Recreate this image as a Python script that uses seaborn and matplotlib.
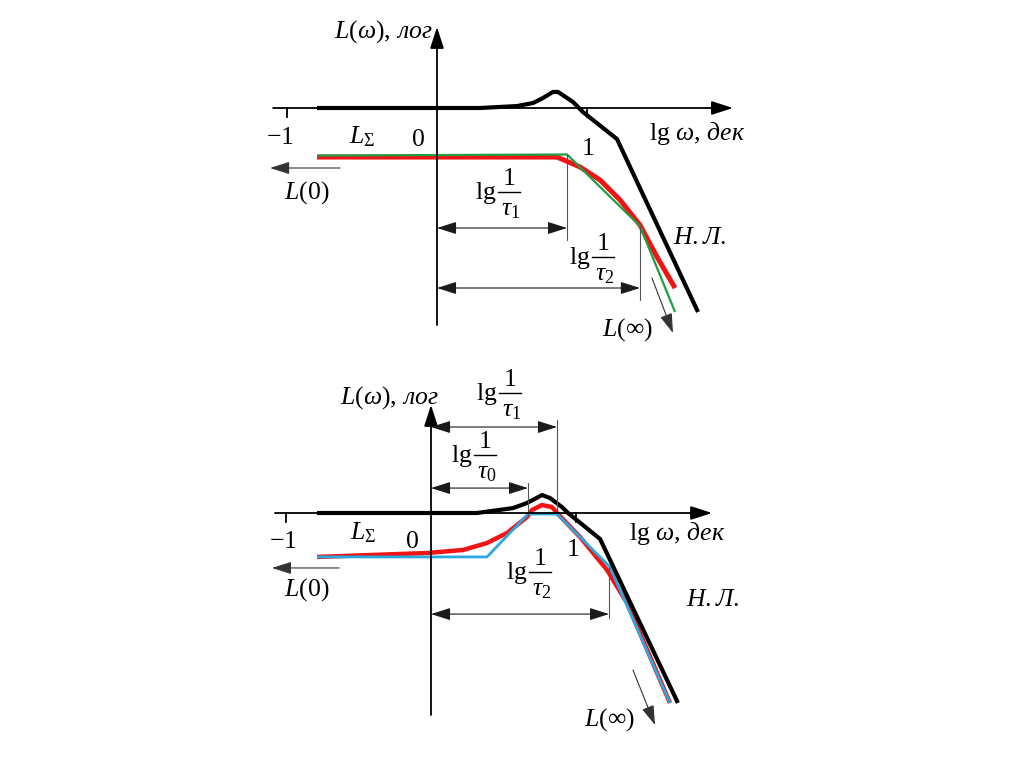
import matplotlib
matplotlib.use("Agg")
import matplotlib.pyplot as plt
import seaborn as sns
import pandas as pd

# Asymptotic LAChH sketches, x = lg(omega) in decades, y = L in the same units

# ---- top panel
top_black_x = [-0.80, 0.287, 0.533, 0.64, 0.707, 0.773, 0.807, 0.907, 0.973, 1.20, 1.74]
top_black_y = [0.0, 0.0, 0.013, 0.033, 0.067, 0.107, 0.107, 0.04, -0.027, -0.207, -1.36]

top_red_x = [-0.80, 0.80, 0.953, 1.087, 1.22, 1.353, 1.467, 1.587]
top_red_y = [-0.327, -0.327, -0.393, -0.48, -0.613, -0.78, -0.993, -1.20]

top_green_x = [-0.80, 0.867, 1.353, 1.587]
top_green_y = [-0.317, -0.31, -0.787, -1.36]

top_tau = {"tau1": 0.867, "tau2": 1.353}

# ---- bottom panel
bot_black_x = [-0.786, 0.317, 0.566, 0.662, 0.766, 0.821, 0.903, 0.945, 1.166, 1.703]
bot_black_y = [0.0, 0.0, 0.034, 0.069, 0.124, 0.103, 0.041, 0.0, -0.179, -1.31]

bot_red_x = [-0.786, -0.028, 0.221, 0.386, 0.524, 0.662, 0.697, 0.766, 0.834, 0.869,
             1.028, 1.214, 1.352, 1.648]
bot_red_y = [-0.303, -0.276, -0.255, -0.207, -0.138, -0.028, 0.021, 0.055, 0.041, 0.0,
             -0.166, -0.393, -0.621, -1.31]

bot_blue_x = [-0.786, 0.386, 0.669, 0.869, 1.234, 1.648]
bot_blue_y = [-0.303, -0.303, -0.007, -0.007, -0.372, -1.31]

bot_tau = {"tau0": 0.669, "tau1": 0.869, "tau2": 1.228}

axis_ticks = [-1, 1]

W, H = 1024, 767

plt.rcParams["font.family"] = ["Liberation Serif", "DejaVu Serif"]
plt.rcParams["mathtext.fontset"] = "custom"
plt.rcParams["mathtext.rm"] = "Liberation Serif"
plt.rcParams["mathtext.it"] = "Liberation Serif:italic"
plt.rcParams["mathtext.bf"] = "Liberation Serif:bold"

fig = plt.figure(figsize=(W / 100, H / 100), dpi=100)
fs = 18.5
PT = 0.72  # points per pixel at dpi 100


def panel(ox, oy, unit):
    # axes covering the whole figure, origin of the sketch at pixel (ox, oy)
    ax = fig.add_axes([0, 0, 1, 1])
    ax.set_xlim(-ox / unit, (W - ox) / unit)
    ax.set_ylim((oy - H) / unit, oy / unit)
    ax.axis("off")
    ax.patch.set_alpha(0)
    ax.unit = unit
    return ax


def curve(ax, xs, ys, color, lw, z):
    df = pd.DataFrame({"x": xs, "y": ys})
    sns.lineplot(data=df, x="x", y="y", ax=ax, color=color, lw=lw, sort=False,
                 estimator=None, zorder=z, legend=False,
                 solid_joinstyle="round", solid_capstyle="butt")


def arrow(ax, p0, p1, style="-|>", lw=1.3, color="black", hl=1.3, hw=0.42):
    ax.annotate("", xy=p1, xytext=p0,
                arrowprops=dict(arrowstyle=f"{style},head_length={hl},head_width={hw}",
                                lw=lw, color=color, shrinkA=0, shrinkB=0,
                                mutation_scale=10), zorder=5)


def axes_cross(ax, xmin, xmax, ymin, ymax):
    arrow(ax, (xmin, 0), (xmax, 0))
    arrow(ax, (0, ymin), (0, ymax))
    for t in axis_ticks:
        ax.plot([t, t], [0, -0.06], color="black", lw=1.3)


def dim(ax, x, y, y_from, y_to):
    # dimension line from the y axis to x, with the extension line
    ax.plot([x, x], [y_from, y_to], color="#555555", lw=0.8, zorder=4)
    arrow(ax, (0, y), (x, y), style="<|-|>", lw=0.8, color="#1a1a1a", hl=1.2, hw=0.38)


def label(ax, x, y, s, dx=0, dy=0):
    ax.annotate(s, xy=(x, y), xytext=(dx * PT, dy * PT), textcoords="offset points",
                fontsize=fs, ha="center", va="center")


def frac(ax, x, y, sub):
    # "lg 1/tau_sub" with (x, y) at the middle of the fraction bar
    hw = 11 / ax.unit
    ax.plot([x - hw, x + hw], [y, y], color="black", lw=1.0)
    label(ax, x, y, r"$\mathrm{lg}$", dx=-23, dy=-1)
    label(ax, x, y, "1", dx=0, dy=13)
    label(ax, x, y, r"$\tau_{%s}$" % sub, dx=2, dy=-18)


# ============ top ============
ax1 = panel(437, 108, 150)
axes_cross(ax1, -1.093, 1.973, -1.447, 0.54)
curve(ax1, top_black_x, top_black_y, "black", 3.0, 3)
curve(ax1, top_red_x, top_red_y, "#f01414", 3.6, 2)
curve(ax1, top_green_x, top_green_y, "#1f9e45", 1.6, 3.5)
dim(ax1, top_tau["tau1"], -0.80, -0.31, -0.88)
dim(ax1, top_tau["tau2"], -1.20, -0.787, -1.28)
arrow(ax1, (-0.647, -0.40), (-1.113, -0.40), lw=0.8, color="#333333", hl=1.2, hw=0.38)
arrow(ax1, (1.433, -1.133), (1.573, -1.50), lw=0.8, color="#333333", hl=1.2, hw=0.38)

label(ax1, -0.357, 0.507, r"$L(\omega),\,лог$")
label(ax1, 1.733, -0.167, r"$\mathrm{lg}\ \omega,\,дек$")
label(ax1, -1.047, -0.20, r"$-1$")
label(ax1, -0.50, -0.193, r"$L_{\Sigma}$")
label(ax1, -0.127, -0.213, "0")
label(ax1, 1.007, -0.273, "1")
label(ax1, -0.867, -0.567, r"$L(0)$")
frac(ax1, 0.48, -0.56, "1")
frac(ax1, 1.107, -0.993, "2")
label(ax1, 1.753, -0.867, r"$Н.Л.$")
label(ax1, 1.267, -1.48, r"$L(\infty)$")

# ============ bottom ============
ax2 = panel(431, 513, 145)
axes_cross(ax2, -1.076, 1.938, -1.393, 0.745)
curve(ax2, bot_black_x, bot_black_y, "black", 3.0, 3)
curve(ax2, bot_red_x, bot_red_y, "#f01414", 3.2, 2)
curve(ax2, bot_blue_x, bot_blue_y, "#2aa8e0", 2.0, 2.5)
dim(ax2, bot_tau["tau1"], 0.593, 0.641, 0.0)
dim(ax2, bot_tau["tau0"], 0.172, 0.207, -0.007)
dim(ax2, bot_tau["tau2"], -0.697, -0.372, -0.724)
arrow(ax2, (-0.634, -0.379), (-1.097, -0.379), lw=0.8, color="#333333", hl=1.2, hw=0.38)
arrow(ax2, (1.393, -1.083), (1.545, -1.462), lw=0.8, color="#333333", hl=1.2, hw=0.38)

label(ax2, -0.285, 0.793, r"$L(\omega),\,лог$")
frac(ax2, 0.545, 0.828, "1")
frac(ax2, 0.372, 0.40, "0")
label(ax2, 1.697, -0.138, r"$\mathrm{lg}\ \omega,\,дек$")
label(ax2, -1.02, -0.20, r"$-1$")
label(ax2, -0.469, -0.138, r"$L_{\Sigma}$")
label(ax2, -0.131, -0.20, "0")
label(ax2, 0.979, -0.255, "1")
frac(ax2, 0.752, -0.407, "2")
label(ax2, -0.855, -0.531, r"$L(0)$")
label(ax2, 1.945, -0.60, r"$Н.Л.$")
label(ax2, 1.234, -1.428, r"$L(\infty)$")

fig.savefig("out.png", dpi=100, facecolor="white")
